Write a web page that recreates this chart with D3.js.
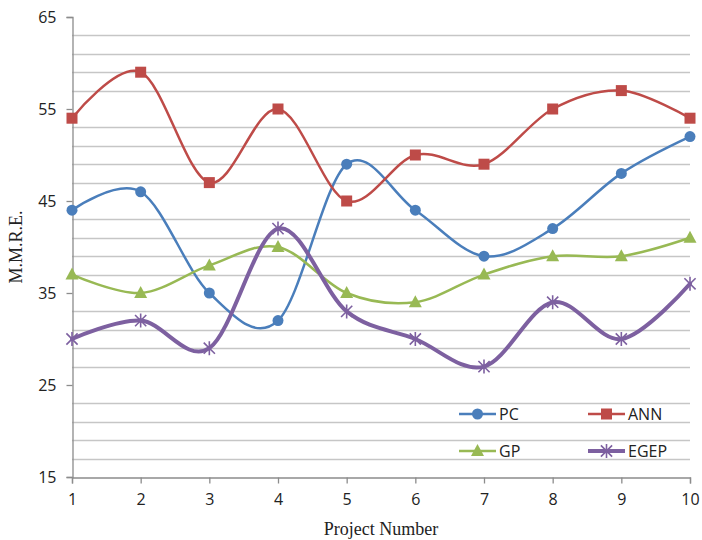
<!DOCTYPE html>
<html>
<head>
<meta charset="utf-8">
<script src="https://cdn.jsdelivr.net/npm/d3@7"></script>
<style>
  html, body { margin: 0; padding: 0; background: #fff; }
  svg { display: block; }
  .axis-title { font-family: "Liberation Serif", "Times New Roman", "DejaVu Serif", serif; font-size: 18px; fill: #222; }
  .tick-label { font-family: "Open Sans", "Liberation Sans", sans-serif; font-size: 16px; fill: #222; }
</style>
</head>
<body>
<svg id="chart" width="702" height="540"></svg>
<script>
// Project numbers on the x axis
const projects = [1, 2, 3, 4, 5, 6, 7, 8, 9, 10];

// M.M.R.E. per method
const pcValues   = [44, 46, 35, 32, 49, 44, 39, 42, 48, 52];
const annValues  = [54, 59, 47, 55, 45, 50, 49, 55, 57, 54];
const gpValues   = [37, 35, 38, 40, 35, 34, 37, 39, 39, 41];
const egepValues = [30, 32, 29, 42, 33, 30, 27, 34, 30, 36];

const seriesNames = ["PC", "ANN", "GP", "EGEP"];
const yTicks = [15, 25, 35, 45, 55, 65];
const yMinorStep = 2;

const series = [
  { name: seriesNames[0], values: pcValues,   color: "#4A7EBB", width: 2.5, marker: "circle" },
  { name: seriesNames[1], values: annValues,  color: "#BE4B48", width: 2.5, marker: "square" },
  { name: seriesNames[2], values: gpValues,   color: "#98B954", width: 2.5, marker: "triangle" },
  { name: seriesNames[3], values: egepValues, color: "#7D60A0", width: 4,   marker: "star" }
];

const svg = d3.select("#chart");
const plot = { left: 72, right: 690, top: 17, bottom: 477 };

const x = d3.scaleLinear().domain([1, 10]).range([plot.left, plot.right]);
const y = d3.scaleLinear().domain([15, 65]).range([plot.bottom, plot.top]);

// Horizontal grid lines every 2 units, skipping the labelled values
const gridVals = d3.range(15 + yMinorStep, 65, yMinorStep).filter(v => !yTicks.includes(v));
svg.append("g").selectAll("line").data(gridVals).join("line")
  .attr("x1", plot.left).attr("x2", plot.right)
  .attr("y1", d => Math.round(y(d)) + 0.5).attr("y2", d => Math.round(y(d)) + 0.5)
  .attr("stroke", "#c6c6c6").attr("stroke-width", 1.3);

// Y axis
const yAxis = d3.axisLeft(y).tickValues(yTicks).tickSize(6).tickPadding(10);
const gy = svg.append("g").attr("transform", `translate(${plot.left + 0.5},0)`).call(yAxis);
gy.attr("font-family", null).attr("font-size", null);
gy.select(".domain").attr("stroke", "#8c8c8c").attr("stroke-width", 1.3);
gy.selectAll(".tick line").attr("stroke", "#8c8c8c").attr("stroke-width", 1.3);
gy.selectAll(".tick text").attr("class", "tick-label").attr("fill", null);

// X axis
const xAxis = d3.axisBottom(x).tickValues(projects).tickSize(6).tickPadding(10).tickFormat(d3.format("d"));
const gx = svg.append("g").attr("transform", `translate(0,${plot.bottom + 0.5})`).call(xAxis);
gx.attr("font-family", null).attr("font-size", null);
gx.select(".domain").attr("stroke", "#8c8c8c").attr("stroke-width", 1.3);
gx.selectAll(".tick line").attr("stroke", "#8c8c8c").attr("stroke-width", 1.3);
gx.selectAll(".tick text").attr("class", "tick-label").attr("fill", null);

// Axis titles
svg.append("text")
  .attr("class", "axis-title")
  .attr("x", 381).attr("y", 535)
  .attr("text-anchor", "middle")
  .text("Project Number");

svg.append("text")
  .attr("class", "axis-title")
  .attr("transform", "translate(22,247) rotate(-90)")
  .attr("text-anchor", "middle")
  .text("M.M.R.E.");

// Marker drawing
function drawMarker(g, type, color, cx, cy) {
  if (type === "circle") {
    g.append("circle").attr("cx", cx).attr("cy", cy).attr("r", 5.5).attr("fill", color);
  } else if (type === "square") {
    g.append("rect").attr("x", cx - 5.5).attr("y", cy - 5.5).attr("width", 11).attr("height", 11).attr("fill", color);
  } else if (type === "triangle") {
    g.append("path").attr("d", `M${cx},${cy - 7}L${cx + 6.5},${cy + 5}L${cx - 6.5},${cy + 5}Z`).attr("fill", color);
  } else if (type === "star") {
    const r = 7;
    const d = r * 0.8;
    g.append("path")
      .attr("d", `M${cx - d},${cy - d}L${cx + d},${cy + d}M${cx - d},${cy + d}L${cx + d},${cy - d}M${cx},${cy - r}L${cx},${cy + r}`)
      .attr("stroke", color).attr("stroke-width", 1.6).attr("fill", "none");
  }
}

const line = d3.line()
  .x((d, i) => x(projects[i]))
  .y(d => y(d))
  .curve(d3.curveCardinal.tension(0));

series.forEach(s => {
  const g = svg.append("g");
  g.append("path").attr("d", line(s.values))
    .attr("fill", "none").attr("stroke", s.color).attr("stroke-width", s.width)
    .attr("stroke-linejoin", "round").attr("stroke-linecap", "round");
  s.values.forEach((v, i) => drawMarker(g, s.marker, s.color, x(projects[i]), y(v)));
});

// Legend (two columns, two rows)
const legendPos = [
  { x: 459, y: 414 }, { x: 588, y: 414 },
  { x: 459, y: 451 }, { x: 588, y: 451 }
];
series.forEach((s, i) => {
  const p = legendPos[i];
  const g = svg.append("g");
  g.append("line").attr("x1", p.x).attr("x2", p.x + 37).attr("y1", p.y).attr("y2", p.y)
    .attr("stroke", s.color).attr("stroke-width", s.width);
  drawMarker(g, s.marker, s.color, p.x + 18.5, p.y);
  g.append("text").attr("class", "tick-label").attr("x", p.x + 40).attr("y", p.y + 6)
    .text(s.name);
});
</script>
</body>
</html>
